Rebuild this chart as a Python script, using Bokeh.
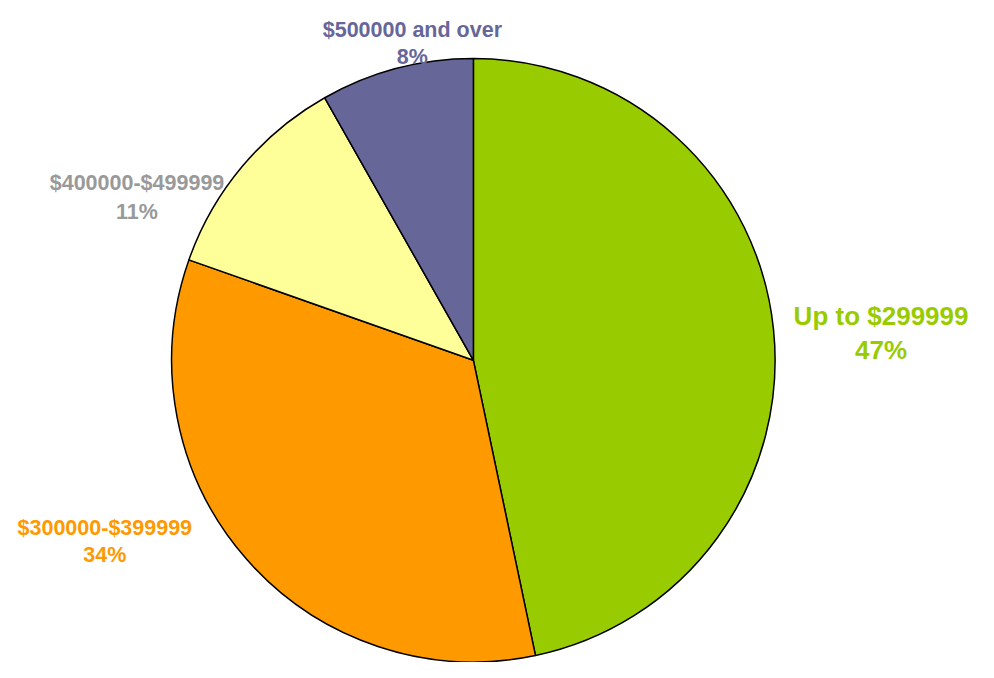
import math
from bokeh.plotting import figure
from bokeh.models import ColumnDataSource, Range1d
from bokeh.core.properties import value
from bokeh.embed import file_html
from bokeh.resources import INLINE

# ---- data ----
categories = ["Up to $299999", "$300000-$399999", "$400000-$499999", "$500000 and over"]
shares = [46.7, 33.7, 11.4, 8.2]
slice_colors = ["#99CC00", "#FF9900", "#FFFF99", "#666699"]
label_colors = ["#99CC00", "#FF9900", "#999999", "#666699"]

# ---- layout ----
W, H = 978, 662
S = H / 678.0          # scale from 994x678 design space
OX = (W - 994 * S) / 2


def tx(x):
    return OX + x * S


def ty(y):
    return H - y * S


cx, cy, r = tx(480.5), ty(368.5), 309 * S
# label positions in design px: (center x, baseline line 1, baseline line 2)
label_pos = [(898, 323, 358), (103, 540, 568), (136, 187, 217), (418, 30, 58)]
label_sizes = [26, 21.5, 21.5, 21.5]

total = sum(shares)
starts, ends, cum = [], [], 0.0
for s in shares:
    starts.append(math.pi / 2 - 2 * math.pi * cum / total)
    cum += s
    ends.append(math.pi / 2 - 2 * math.pi * cum / total)

src = ColumnDataSource(dict(start=starts, end=ends, color=slice_colors))

p = figure(width=W, height=H, output_backend="svg", toolbar_location=None,
           x_range=Range1d(0, W), y_range=Range1d(0, H), min_border=0)
p.axis.visible = False
p.grid.visible = False
p.outline_line_color = None
p.background_fill_color = "white"

p.wedge(x=cx, y=cy, radius=r, start_angle="start", end_angle="end", direction="clock",
        fill_color="color", line_color="black", line_width=1.5, source=src)

for cat, s, col, (lx, b1, b2), fs in zip(categories, shares, label_colors, label_pos, label_sizes):
    pct = f"{round(s / total * 100)}%"
    for txt, by in ((cat, b1), (pct, b2)):
        p.text(x=[tx(lx)], y=[ty(by)], text=[txt], text_align="center",
               text_baseline="alphabetic", text_color=col, text_font_size=f"{fs}px",
               text_font=value("Liberation Sans"), text_font_style="bold")

open("out.html", "w").write(file_html(p, INLINE))
